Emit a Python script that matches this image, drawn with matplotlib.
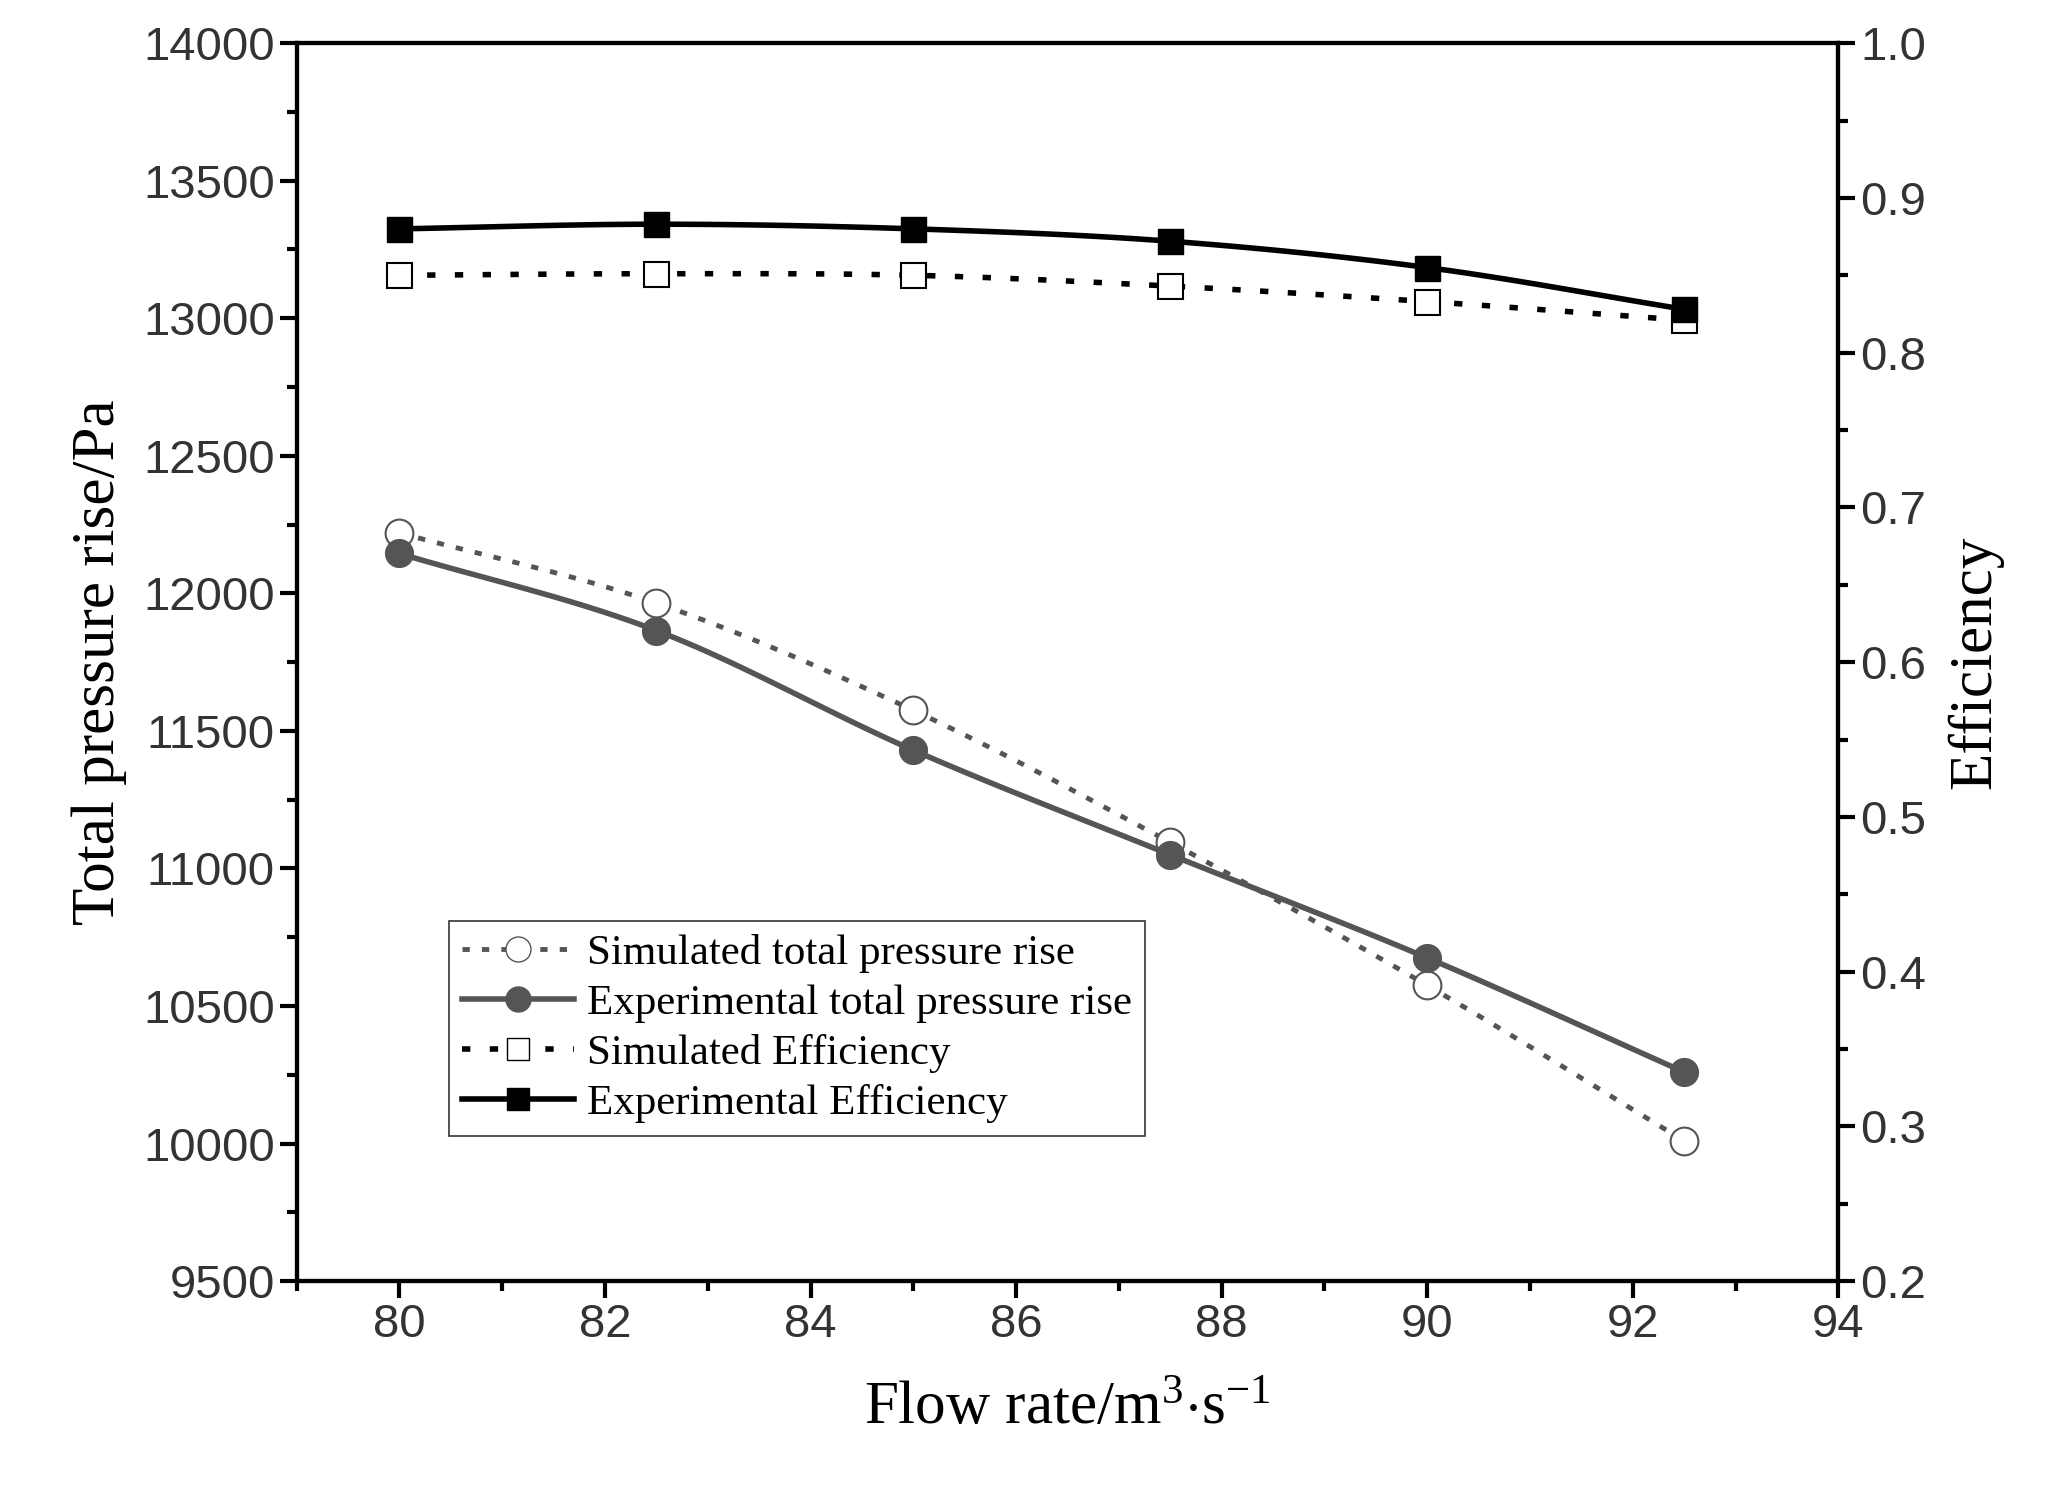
import numpy as np
import matplotlib
matplotlib.use("Agg")
import matplotlib.pyplot as plt
from matplotlib.ticker import MultipleLocator

flow = [80, 82.5, 85, 87.5, 90, 92.5]
simPressure = [12220, 11965, 11575, 11095, 10575, 10010]
expPressure = [12145, 11865, 11430, 11050, 10675, 10260]
simEff = [0.850, 0.851, 0.850, 0.843, 0.833, 0.821]
expEff = [0.880, 0.883, 0.880, 0.872, 0.855, 0.828]

def smooth(x, y, n=20):
    # catmull-rom through the points, only for the connecting line
    x = np.asarray(x, float); y = np.asarray(y, float)
    px = np.concatenate([[2*x[0]-x[1]], x, [2*x[-1]-x[-2]]])
    py = np.concatenate([[2*y[0]-y[1]], y, [2*y[-1]-y[-2]]])
    xs, ys = [], []
    for i in range(1, len(px)-2):
        t = np.linspace(0, 1, n, endpoint=False)
        for p, out in ((px, xs), (py, ys)):
            p0, p1, p2, p3 = p[i-1], p[i], p[i+1], p[i+2]
            out.extend(0.5*((2*p1) + (-p0+p2)*t + (2*p0-5*p1+4*p2-p3)*t**2 + (-p0+3*p1-3*p2+p3)*t**3))
    xs.append(x[-1]); ys.append(y[-1])
    return np.array(xs), np.array(ys)

sans = "Liberation Sans"
serif = "Liberation Serif"
gray = "#555555"
matplotlib.rcParams["mathtext.fontset"] = "custom"
matplotlib.rcParams["mathtext.rm"] = serif
matplotlib.rcParams["mathtext.it"] = serif + ":italic"

fig = plt.figure(figsize=(20.45, 14.88), dpi=100)
ax = fig.add_axes([0.145, 0.139, 0.754, 0.832])
ax2 = ax.twinx()

sx, sy = smooth(flow, simPressure)
ax.plot(sx, sy, ls=(0, (1.5, 2.5)), color=gray, lw=3.5)
ax.plot(flow, simPressure, "o", mfc="white", mec=gray, ms=20, mew=1.5)
ex, ey = smooth(flow, expPressure)
ax.plot(ex, ey, "-", color=gray, lw=4)
ax.plot(flow, expPressure, "o", color=gray, ms=20)

sx, sy = smooth(flow, simEff)
ax2.plot(sx, sy, ls=(0, (1.5, 3.5)), color="black", lw=4)
ax2.plot(flow, simEff, "s", mfc="white", mec="black", ms=18, mew=1.5)
ex, ey = smooth(flow, expEff)
ax2.plot(ex, ey, "-", color="black", lw=4)
ax2.plot(flow, expEff, "s", color="black", ms=18)

# legend proxies
h = [ax.plot([], [], ls=(0, (1.5, 2.5)), color=gray, lw=3.5, marker="o", mfc="white", mec=gray, ms=18)[0],
     ax.plot([], [], "-", color=gray, lw=4, marker="o", ms=18)[0],
     ax.plot([], [], ls=(0, (1.5, 3.5)), color="black", lw=4, marker="s", mfc="white", mec="black", ms=16)[0],
     ax.plot([], [], "-", color="black", lw=4, marker="s", ms=16)[0]]
labels = ["Simulated total pressure rise", "Experimental total pressure rise",
          "Simulated Efficiency", "Experimental Efficiency"]
leg = ax.legend(h, labels, loc="lower left", bbox_to_anchor=(0.085, 0.1), fancybox=False,
                edgecolor="black", prop={"family": serif, "size": 31}, handlelength=2.6,
                handletextpad=0.3, borderpad=0.3, labelspacing=0.25)
leg.get_frame().set_linewidth(1.2)

ax.set_xlim(79, 94)
ax.set_ylim(9500, 14000)
ax2.set_ylim(0.2, 1.0)
ax.xaxis.set_major_locator(MultipleLocator(2))
ax.xaxis.set_minor_locator(MultipleLocator(1))
ax.yaxis.set_major_locator(MultipleLocator(500))
ax.yaxis.set_minor_locator(MultipleLocator(250))
ax2.yaxis.set_major_locator(MultipleLocator(0.1))
ax2.yaxis.set_minor_locator(MultipleLocator(0.05))

for a in (ax, ax2):
    a.tick_params(which="major", length=12, width=3, labelsize=34)
    a.tick_params(which="minor", length=7, width=3)
    for lab in a.get_xticklabels() + a.get_yticklabels():
        lab.set_fontfamily(sans)
        lab.set_color("#333333")
    for s in a.spines.values():
        s.set_linewidth(3)

ax.set_xlabel("Flow rate/m$^{3}$$\\cdot$s$^{-1}$", fontfamily=serif, fontsize=44, labelpad=25)
ax.set_ylabel("Total pressure rise/Pa", fontfamily=serif, fontsize=44, labelpad=12)
ax2.set_ylabel("Efficiency", fontfamily=serif, fontsize=44, labelpad=15)

fig.savefig("out.png", dpi=100)
